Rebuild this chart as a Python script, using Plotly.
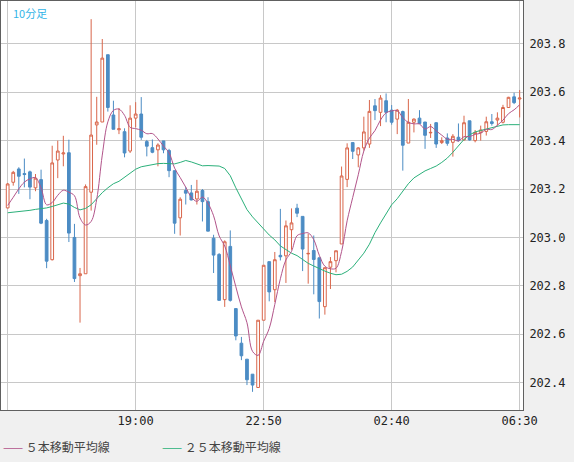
import plotly.graph_objects as go

# 10-minute bars, 15:10 -> 06:30
opens = [203.122, 203.228, 203.283, 203.264, 203.271, 203.205, 203.239, 203.070, 202.908, 203.320,
         203.345, 203.350, 203.000, 202.842, 202.850, 203.187, 203.465, 203.477, 203.755, 203.506,
         203.445, 203.437, 203.357, 203.493, 203.510, 203.396, 203.371, 203.362, 203.399, 203.359,
         203.276, 203.081, 203.194, 203.184, 203.159, 203.194, 203.148, 202.997, 202.930, 202.743,
         202.963, 202.706, 202.563, 202.497, 202.435, 202.380, 202.658, 202.900, 202.784, 202.926,
         202.924, 203.032, 203.121, 203.087, 202.932, 202.946, 202.916, 202.714, 202.877, 202.904,
         202.973, 203.240, 203.392, 203.341, 203.370, 203.386, 203.544, 203.517, 203.565, 203.526,
         203.489, 203.520, 203.390, 203.476, 203.493, 203.477, 203.432, 203.474, 203.392, 203.411,
         203.393, 203.414, 203.403, 203.482, 203.400, 203.433, 203.438, 203.478, 203.485, 203.476,
         203.537, 203.581, 203.572]
highs = [203.225, 203.275, 203.290, 203.326, 203.276, 203.262, 203.280, 203.077, 203.379, 203.400,
         203.420, 203.404, 203.056, 202.874, 203.219, 203.902, 203.581, 203.820, 203.755, 203.565,
         203.535, 203.451, 203.546, 203.559, 203.580, 203.403, 203.405, 203.389, 203.399, 203.366,
         203.276, 203.166, 203.208, 203.217, 203.238, 203.200, 203.166, 203.011, 202.935, 202.988,
         203.029, 202.706, 202.589, 202.497, 202.435, 202.658, 202.885, 202.900, 202.940, 203.118,
         203.070, 203.120, 203.139, 203.087, 203.015, 203.008, 202.916, 202.875, 202.919, 202.945,
         203.293, 203.389, 203.392, 203.373, 203.499, 203.568, 203.572, 203.588, 203.595, 203.547,
         203.531, 203.524, 203.572, 203.492, 203.526, 203.477, 203.469, 203.477, 203.414, 203.430,
         203.427, 203.471, 203.503, 203.482, 203.444, 203.462, 203.499, 203.510, 203.517, 203.548,
         203.581, 203.598, 203.609]
lows = [203.120, 203.214, 203.180, 203.207, 203.158, 203.191, 203.055, 202.873, 202.905, 203.245,
        203.294, 202.981, 202.816, 202.648, 202.850, 203.111, 203.383, 203.477, 203.520, 203.447,
        203.427, 203.331, 203.349, 203.455, 203.403, 203.335, 203.348, 203.294, 203.348, 203.249,
        203.015, 203.008, 203.136, 203.153, 203.136, 203.066, 203.026, 202.853, 202.740, 202.713,
        202.735, 202.575, 202.493, 202.390, 202.362, 202.380, 202.658, 202.736, 202.733, 202.905,
        202.812, 202.949, 203.084, 202.861, 202.809, 202.765, 202.665, 202.681, 202.787, 202.856,
        202.973, 203.208, 203.324, 203.290, 203.359, 203.370, 203.485, 203.460, 203.476, 203.466,
        203.427, 203.276, 203.390, 203.434, 203.469, 203.366, 203.411, 203.370, 203.386, 203.379,
        203.334, 203.396, 203.400, 203.400, 203.393, 203.400, 203.421, 203.462, 203.462, 203.471,
        203.537, 203.551, 203.496]
closes = [203.221, 203.269, 203.253, 203.260, 203.208, 203.245, 203.059, 202.902, 203.308, 203.357,
          203.349, 203.018, 202.830, 202.850, 203.210, 203.423, 203.477, 203.741, 203.537, 203.447,
          203.449, 203.349, 203.493, 203.510, 203.414, 203.377, 203.352, 203.382, 203.362, 203.276,
          203.059, 203.158, 203.183, 203.155, 203.191, 203.148, 203.026, 202.927, 202.740, 202.982,
          202.740, 202.593, 202.511, 202.412, 202.390, 202.658, 202.885, 202.775, 202.908, 202.920,
          203.048, 203.060, 203.100, 202.952, 202.934, 202.909, 202.735, 202.875, 202.900, 202.945,
          203.254, 203.370, 203.356, 203.370, 203.436, 203.521, 203.524, 203.576, 203.517, 203.476,
          203.526, 203.381, 203.476, 203.489, 203.471, 203.422, 203.434, 203.386, 203.400, 203.389,
          203.418, 203.400, 203.474, 203.403, 203.434, 203.444, 203.478, 203.471, 203.493, 203.537,
          203.579, 203.557, 203.576]
prior_closes = [203.10, 203.08, 203.12, 203.14]  # closes before the first visible bar
ma25 = [203.102, 203.104, 203.106, 203.108, 203.112, 203.116, 203.118, 203.122, 203.128, 203.135,
        203.142, 203.138, 203.124, 203.114, 203.120, 203.135, 203.160, 203.185, 203.205, 203.222,
        203.232, 203.248, 203.265, 203.282, 203.292, 203.297, 203.300, 203.305, 203.306, 203.305,
        203.304, 203.310, 203.318, 203.312, 203.303, 203.296, 203.297, 203.297, 203.295, 203.285,
        203.255, 203.205, 203.160, 203.115, 203.085, 203.058, 203.035, 203.010, 202.990, 202.965,
        202.950, 202.935, 202.925, 202.908, 202.893, 202.882, 202.870, 202.861, 202.852, 202.846,
        202.848, 202.860, 202.878, 202.905, 202.935, 202.972, 203.020, 203.060, 203.100, 203.135,
        203.160, 203.190, 203.222, 203.246, 203.260, 203.275, 203.285, 203.295, 203.310, 203.328,
        203.352, 203.380, 203.405, 203.424, 203.436, 203.442, 203.448, 203.455, 203.462, 203.465,
        203.466, 203.466, 203.466]
tick_bars = [0, 23, 46, 69, 92]
tick_text = ["", "19:00", "22:50", "02:40", "06:30"]
y_ticks = [202.4, 202.6, 202.8, 203.0, 203.2, 203.4, 203.6, 203.8]

UP = "#d9664b"
DOWN = "#4c8cc4"
MA5_COLOR = "#b2548a"
MA25_COLOR = "#2bb07a"

bars = list(range(len(closes)))
allc = prior_closes + closes
ma5 = [sum(allc[i:i + 5]) / 5 for i in range(len(closes))]

fig = go.Figure()
fig.add_trace(go.Candlestick(
    x=bars, open=opens, high=highs, low=lows, close=closes,
    increasing=dict(line=dict(color=UP, width=1), fillcolor="white"),
    decreasing=dict(line=dict(color=DOWN, width=1), fillcolor=DOWN),
    whiskerwidth=0, showlegend=False, hoverinfo="skip"))
fig.add_trace(go.Scatter(x=bars, y=ma25, mode="lines", line=dict(color=MA25_COLOR, width=1),
                         showlegend=False, hoverinfo="skip"))
fig.add_trace(go.Scatter(x=bars, y=ma5, mode="lines", line=dict(color=MA5_COLOR, width=1, shape="spline"),
                         showlegend=False, hoverinfo="skip"))

mono = "DejaVu Sans Mono"
fig.update_layout(
    width=574, height=462,
    margin=dict(l=1, r=51, t=1, b=52, autoexpand=False),
    paper_bgcolor="#f0f0f0", plot_bgcolor="white",
    xaxis=dict(range=[-1.2, 92.6], tickvals=tick_bars, ticktext=tick_text, automargin=False,
               showgrid=True, gridcolor="#c8c8c8", gridwidth=1, zeroline=False,
               showline=True, linecolor="#606060", mirror=True, ticks="",
               rangeslider=dict(visible=False),
               tickfont=dict(family=mono, size=12, color="#222")),
    yaxis=dict(range=[202.287, 203.977], side="right", tickvals=y_ticks, automargin=False,
               ticktext=[f"{v:.1f}" for v in y_ticks], ticklabelstandoff=3,
               showgrid=True, gridcolor="#c8c8c8", gridwidth=1, zeroline=False,
               showline=True, linecolor="#606060", mirror=True, ticks="",
               tickfont=dict(family=mono, size=12, color="#222")),
    annotations=[
        dict(xref="paper", yref="paper", x=0.02, y=0.995, xanchor="left", yanchor="top",
             text="10分足", showarrow=False,
             font=dict(family="Noto Sans CJK JP", size=11, color="#33b5e8")),
        dict(xref="paper", yref="paper", x=0.0, y=-0.09, xanchor="left", yanchor="middle",
             text=f"<span style='color:{MA5_COLOR}'>——</span> ５本移動平均線", showarrow=False,
             font=dict(family="Noto Sans CJK JP", size=12, color="#444")),
        dict(xref="paper", yref="paper", x=0.305, y=-0.09, xanchor="left", yanchor="middle",
             text=f"<span style='color:{MA25_COLOR}'>——</span> ２５本移動平均線", showarrow=False,
             font=dict(family="Noto Sans CJK JP", size=12, color="#444")),
    ],
)

fig.write_html("out.html", config={"displayModeBar": False},
               post_script="document.body.style.margin='0';document.body.style.overflow='hidden';")
